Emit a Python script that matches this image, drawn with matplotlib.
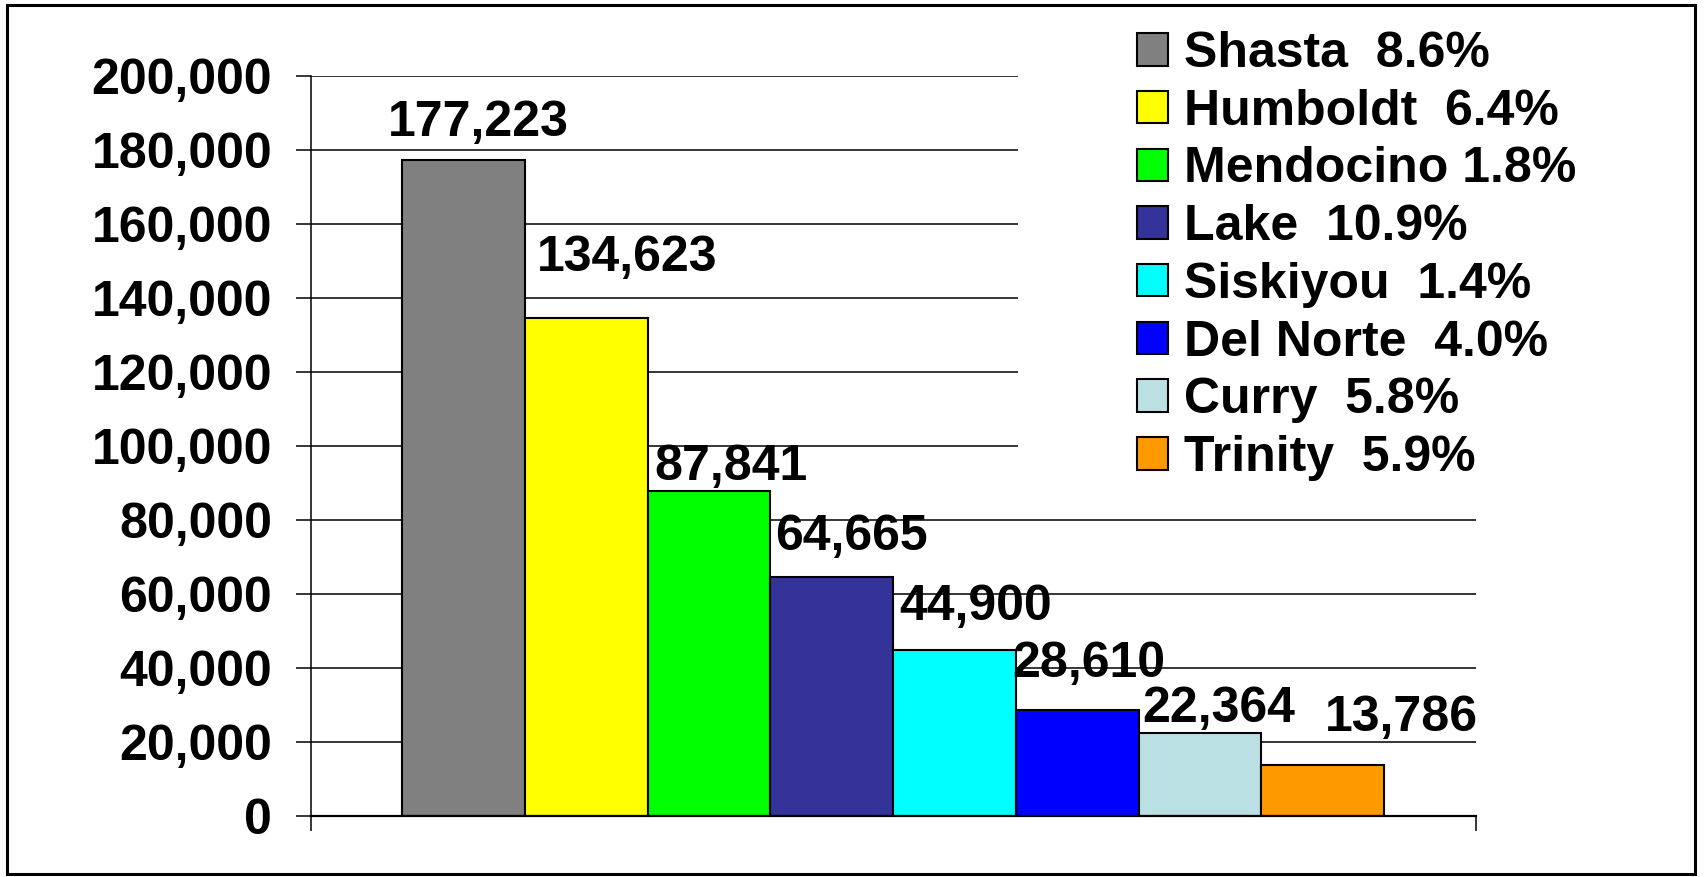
import matplotlib
matplotlib.use('Agg')
import matplotlib.pyplot as plt
import matplotlib.ticker as tck
from matplotlib.patches import Patch, Rectangle

plt.rcParams['font.family'] = ['Liberation Sans', 'DejaVu Sans']
plt.rcParams['font.weight'] = 'bold'

counties = ['Shasta', 'Humboldt', 'Mendocino', 'Lake', 'Siskiyou', 'Del Norte', 'Curry', 'Trinity']
population = [177223, 134623, 87841, 64665, 44900, 28610, 22364, 13786]
legend_labels = ['Shasta  8.6%', 'Humboldt  6.4%', 'Mendocino 1.8%', 'Lake  10.9%',
                 'Siskiyou  1.4%', 'Del Norte  4.0%', 'Curry  5.8%', 'Trinity  5.9%']
colors = ['#808080', '#FFFF00', '#00FF00', '#333399', '#00FFFF', '#0000FF', '#BBE0E3', '#FF9900']
yticks = [0, 20000, 40000, 60000, 80000, 100000, 120000, 140000, 160000, 180000, 200000]

# label nudges (pixels) to sit where the original labels sit
label_dx = [15, 41, 22, 20, 21, 12, 19, 79]
label_dy = [24, 47, 11, 27, 30, 33, 11, 34]

fig = plt.figure(figsize=(17.07, 8.77), dpi=100)
ax = fig.add_axes([310.8 / 1707, 61 / 877, 1164.7 / 1707, 740 / 877])

xpos = list(range(len(counties)))
ax.bar(xpos, population, width=1.0, color=colors, edgecolor='black', linewidth=1.5, zorder=2)

for i, v in enumerate(population):
    ax.annotate(f'{v:,}', (xpos[i], v), xytext=(label_dx[i], label_dy[i]),
                textcoords='offset pixels', ha='center', va='baseline',
                fontsize=36, fontweight='bold', zorder=5)

ax.set_ylim(0, 200000)
ax.set_xlim(-1.245, 8.245)
ax.set_yticks(yticks)
ax.yaxis.set_major_formatter(tck.StrMethodFormatter('{x:,.0f}'))
ax.set_xticks([-1.245, 8.245])
ax.set_xticklabels(['', ''])
ax.tick_params(axis='both', direction='out', length=10.8, width=1.1, color='black')
ax.tick_params(axis='y', labelsize=36, pad=17)
for lab in ax.get_yticklabels():
    lab.set_fontweight('bold')

ax.spines['top'].set_visible(False)
ax.spines['right'].set_visible(False)
ax.spines['left'].set_linewidth(1.1)
ax.spines['bottom'].set_linewidth(1.6)
ax.set_axisbelow(True)
ax.yaxis.grid(True, color='black', linewidth=1.1)

# white area behind the legend hides the upper gridlines
ax.add_patch(Rectangle((0.6072, 0.45), 0.5, 0.6, transform=ax.transAxes,
                       facecolor='white', edgecolor='none', zorder=1, clip_on=False))

handles = [Patch(facecolor=c, edgecolor='black', linewidth=1.5) for c in colors]
leg = fig.legend(handles, legend_labels, loc='upper left',
                 bbox_to_anchor=(1137 / 1707, 1 - 31 / 877), frameon=False,
                 prop={'size': 36, 'weight': 'bold'}, handlelength=0.62, handleheight=0.62,
                 handletextpad=0.32, labelspacing=0.234, borderpad=0, borderaxespad=0)

fig.patches.append(Rectangle((6.5 / 1707, 3 / 877), 1688.5 / 1707, 869 / 877,
                             transform=fig.transFigure, fill=False, edgecolor='black',
                             linewidth=2.2))

fig.savefig('out.png', dpi=100)
